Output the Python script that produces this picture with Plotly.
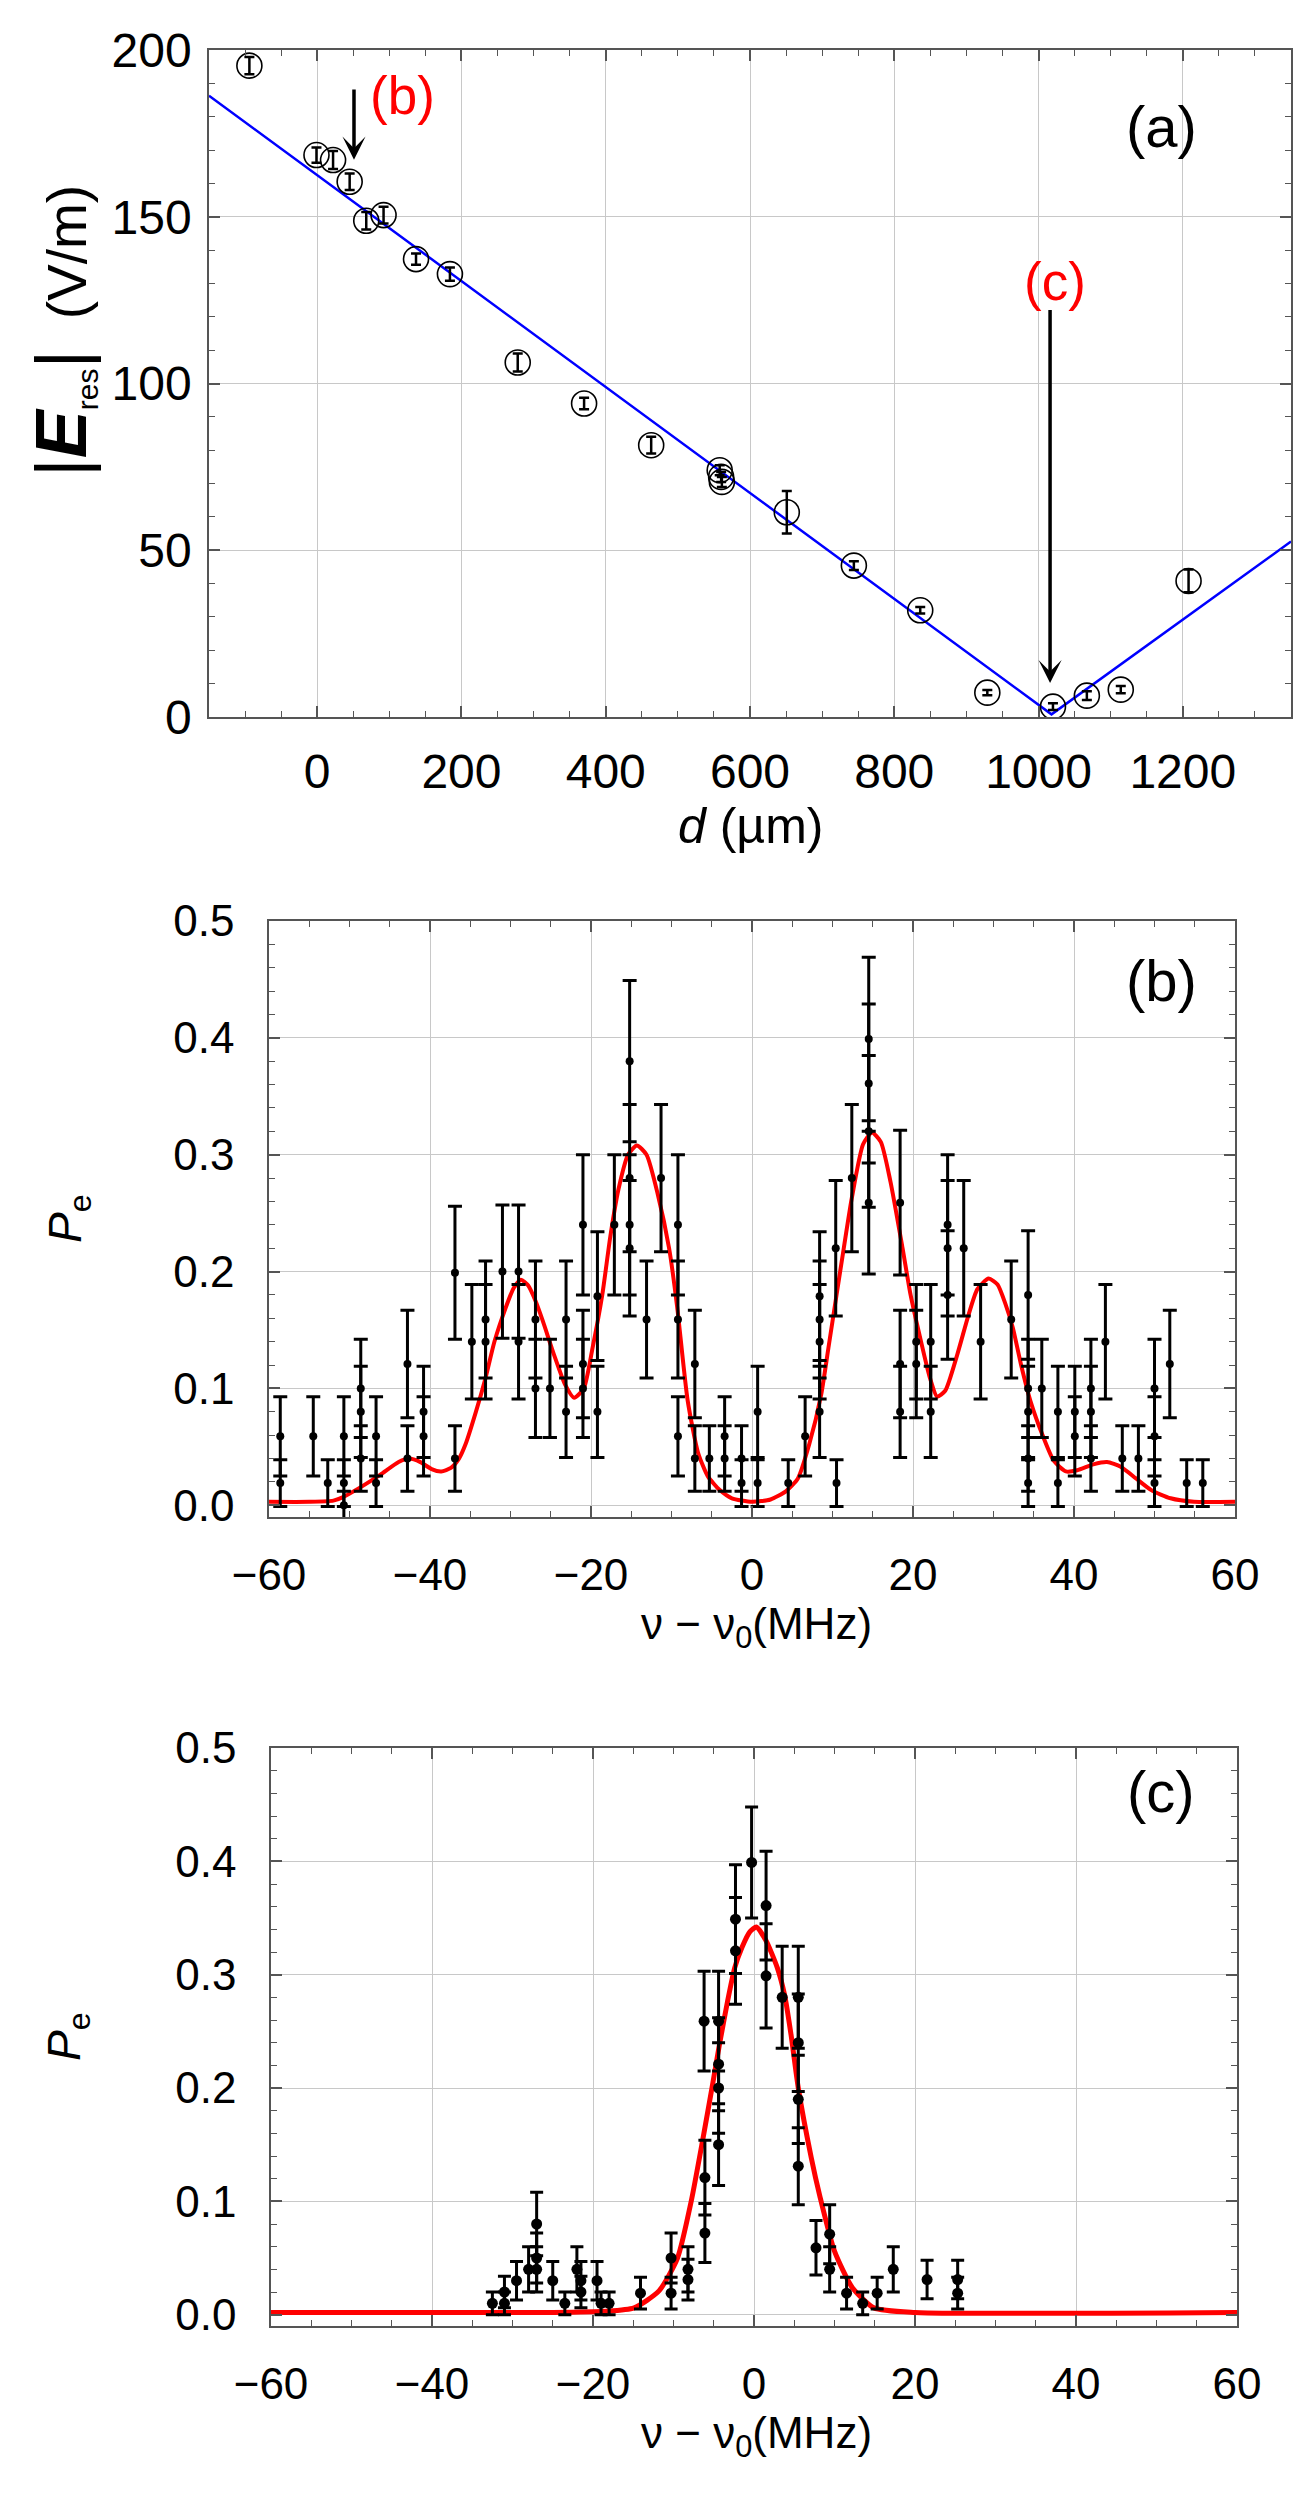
import plotly.graph_objects as go

W, H = 1309, 2512
FONT = "Liberation Sans, Arial, Helvetica, sans-serif"

# ---------------- Panel (a) data ----------------
a_d = [-94, -1, 22, 45, 68, 92, 137, 184, 278, 370, 463, 558, 560, 561, 651, 744, 836, 929, 1020, 1067, 1114, 1208]
a_E = [195.3, 168.5, 167.0, 160.5, 148.8, 150.5, 137.3, 132.8, 106.3, 94.0, 81.5, 74.0, 72.0, 70.5, 61.4, 45.4, 32.0, 7.3, 3.1, 6.4, 8.2, 40.8]
a_err = [2.6, 2.3, 2.7, 2.5, 2.6, 2.5, 1.7, 2.0, 2.7, 1.7, 2.5, 1.5, 1.5, 1.5, 6.4, 1.3, 1.0, 0.8, 1.0, 1.3, 1.1, 3.4]
fit_d = [-150, 1018, 1350]
fit_E = [186.3, 0.8, 52.6]

# ---------------- Panel (b) data ----------------
b_x = [-58.6, -58.6, -54.5, -52.7, -50.7, -50.7, -50.7, -48.6, -48.6, -48.6, -46.7, -46.7,
       -42.8, -42.8, -40.8, -40.8, -36.9, -36.9, -34.8, -33.1, -33.1, -31.0, -29.0, -29.0,
       -26.9, -26.9, -25.1, -23.1, -23.1, -21.0, -21.0, -21.0, -19.2, -19.2, -17.1,
       -15.2, -15.2, -15.2, -15.2, -13.1, -11.3, -9.2, -9.2, -9.2, -7.1, -7.1, -5.3,
       -3.4, -3.4, -1.3, -1.3, 0.7, 0.7, 4.5, 6.6, 8.4, 8.4, 8.4, 8.4, 10.4, 10.5, 12.4,
       14.5, 14.5, 14.5, 14.5, 18.4, 18.4, 18.4, 20.4, 20.4, 22.2, 22.2, 24.3, 24.3, 24.3,
       26.3, 28.4, 32.2, 34.3, 34.3, 34.3, 34.3, 34.3, 36.0, 38.0, 38.0, 40.1, 40.1,
       42.1, 42.1, 42.1, 43.9, 46.0, 48.0, 50.0, 50.0, 50.0, 51.9, 54.0, 56.0]
b_y = [0.059, 0.019, 0.059, 0.019, 0.059, 0.019, 0.000, 0.100, 0.080, 0.040, 0.059, 0.019,
       0.121, 0.040, 0.080, 0.059, 0.199, 0.040, 0.140, 0.159, 0.140, 0.200, 0.200, 0.140,
       0.159, 0.100, 0.100, 0.159, 0.080, 0.240, 0.121, 0.100, 0.179, 0.080, 0.240,
       0.380, 0.280, 0.240, 0.220, 0.159, 0.280, 0.240, 0.159, 0.059, 0.121, 0.040, 0.040,
       0.059, 0.040, 0.040, 0.019, 0.080, 0.019, 0.019, 0.059, 0.179, 0.159, 0.140, 0.080, 0.220, 0.019, 0.280,
       0.399, 0.361, 0.320, 0.259, 0.259, 0.121, 0.080, 0.140, 0.121, 0.140, 0.080, 0.240, 0.220, 0.180,
       0.220, 0.140, 0.159, 0.180, 0.100, 0.080, 0.040, 0.019, 0.100, 0.080, 0.019, 0.080, 0.059,
       0.100, 0.080, 0.040, 0.140, 0.040, 0.040, 0.100, 0.059, 0.019, 0.121, 0.019, 0.019]
b_err = [0.034, 0.020, 0.034, 0.020, 0.034, 0.020, 0.012, 0.042, 0.039, 0.028, 0.034, 0.020,
         0.046, 0.028, 0.039, 0.034, 0.057, 0.028, 0.049, 0.050, 0.049, 0.057, 0.057, 0.049,
         0.050, 0.042, 0.042, 0.050, 0.039, 0.060, 0.046, 0.042, 0.055, 0.039, 0.060,
         0.069, 0.063, 0.060, 0.058, 0.050, 0.063, 0.060, 0.050, 0.034, 0.046, 0.028, 0.028,
         0.034, 0.028, 0.028, 0.020, 0.039, 0.020, 0.020, 0.034, 0.055, 0.050, 0.049, 0.039, 0.058, 0.020, 0.063,
         0.070, 0.068, 0.065, 0.061, 0.062, 0.046, 0.039, 0.049, 0.046, 0.049, 0.039, 0.060, 0.058, 0.055,
         0.058, 0.049, 0.050, 0.055, 0.042, 0.039, 0.028, 0.020, 0.042, 0.039, 0.020, 0.039, 0.034,
         0.042, 0.039, 0.028, 0.049, 0.028, 0.028, 0.042, 0.034, 0.020, 0.046, 0.020, 0.020]
bfit_x = [-60, -55, -52, -50.8, -48.5, -46.2, -43.9, -42.6, -41.2, -39.8, -38.6, -37.4, -36.4, -35.6,
          -34.3, -33.1, -32.0, -30.6, -29.6, -28.7, -27.8, -26.9, -26.0, -24.6, -23.2, -22.1, -20.9,
          -19.8, -18.6, -17.6, -16.6, -15.4, -14.3, -13.1, -11.7, -10.3, -9.3, -8.0, -6.7, -5.5, -4.0,
          -2.5, 0, 2.3, 4.2, 5.7, 7.1, 8.6, 9.5, 10.5, 11.4, 12.4, 13.8, 14.9, 16.0, 17.2, 18.7, 19.7,
          20.9, 22.1, 23.0, 24.0, 25.5, 26.9, 28.0, 29.4, 30.5, 31.5, 32.4, 33.4, 34.6, 36.1, 37.5,
          39.0, 40.4, 42.4, 44.1, 45.8, 47.7, 49.6, 52.0, 54.9, 60]
bfit_y = [0.003, 0.003, 0.004, 0.007, 0.016, 0.026, 0.037, 0.040, 0.037, 0.031, 0.029, 0.032, 0.040, 0.052,
          0.080, 0.109, 0.140, 0.169, 0.186, 0.193, 0.188, 0.175, 0.158, 0.129, 0.103, 0.092, 0.100,
          0.135, 0.180, 0.230, 0.270, 0.300, 0.308, 0.300, 0.266, 0.220, 0.170, 0.090, 0.045, 0.025, 0.013,
          0.006, 0.003, 0.005, 0.012, 0.023, 0.052, 0.095, 0.135, 0.180, 0.220, 0.263, 0.309, 0.319, 0.311,
          0.277, 0.220, 0.180, 0.143, 0.109, 0.093, 0.098, 0.129, 0.163, 0.185, 0.194, 0.189, 0.172, 0.152,
          0.121, 0.089, 0.060, 0.038, 0.029, 0.030, 0.035, 0.037, 0.033, 0.023, 0.013, 0.006, 0.003, 0.003]

# ---------------- Panel (c) data ----------------
c_x = [-32.5, -31.0, -31.0, -29.5, -28.0, -27.0, -27.0, -27.0, -25.0, -23.5, -22.0, -21.5, -21.5,
       -19.5, -19.0, -18.0, -14.1, -10.3, -10.3, -8.2, -8.2, -6.2, -6.1, -6.1, -4.4, -4.4, -4.4, -4.4,
       -2.3, -2.3, -0.3, 1.5, 1.5, 3.5, 5.5, 5.5, 5.5, 5.5, 7.7, 9.4, 9.4, 11.5, 13.5, 15.3, 17.3,
       21.5, 25.3, 25.3]
c_y = [0.010, 0.010, 0.020, 0.030, 0.040, 0.080, 0.050, 0.040, 0.030, 0.010, 0.040, 0.030, 0.020,
       0.030, 0.010, 0.010, 0.019, 0.050, 0.019, 0.040, 0.031, 0.259, 0.121, 0.072, 0.259, 0.221, 0.200, 0.150,
       0.349, 0.321, 0.399, 0.361, 0.299, 0.280, 0.280, 0.240, 0.190, 0.131, 0.059, 0.071, 0.040,
       0.019, 0.010, 0.019, 0.040, 0.031, 0.031, 0.019]
c_err = [0.010, 0.010, 0.014, 0.017, 0.020, 0.028, 0.022, 0.020, 0.017, 0.010, 0.020, 0.017, 0.014,
         0.017, 0.010, 0.010, 0.014, 0.022, 0.014, 0.020, 0.018, 0.044, 0.033, 0.026, 0.044, 0.041, 0.040, 0.036,
         0.048, 0.047, 0.049, 0.048, 0.046, 0.045, 0.045, 0.043, 0.039, 0.034, 0.024, 0.026, 0.020,
         0.014, 0.010, 0.014, 0.020, 0.017, 0.017, 0.014]
cfit_x = [-60, -25, -18.4, -14.9, -11.8, -9.5, -7.8, -6.4, -5.1, -4.3, -3.3, -2.4, -1.5, -0.5, 0.3,
          1.5, 2.9, 3.8, 4.6, 5.5, 7.1, 8.2, 10.0, 12.2, 14.9, 20, 60]
cfit_y = [0.002, 0.002, 0.003, 0.006, 0.021, 0.050, 0.100, 0.153, 0.205, 0.238, 0.276, 0.306, 0.324, 0.338, 0.342,
          0.330, 0.306, 0.282, 0.247, 0.200, 0.139, 0.104, 0.056, 0.024, 0.006, 0.002, 0.002]

a_xticks = [0, 200, 400, 600, 800, 1000, 1200]
a_yticks = [0, 50, 100, 150, 200]
bc_xticks = [-60, -40, -20, 0, 20, 40, 60]
bc_yticks = [0.0, 0.1, 0.2, 0.3, 0.4, 0.5]
bc_yticktext = ["0.0", "0.1", "0.2", "0.3", "0.4", "0.5"]

fig = go.Figure()

# Panel (a)
fig.add_trace(go.Scatter(x=fit_d, y=fit_E, mode="lines", line=dict(color="#0000ff", width=2.5),
                         xaxis="x", yaxis="y", showlegend=False, hoverinfo="skip"))
fig.add_trace(go.Scatter(x=a_d, y=a_E, mode="markers",
                         marker=dict(symbol="circle-open", size=25, color="black", line=dict(width=1.6, color="black")),
                         error_y=dict(type="data", array=a_err, color="black", thickness=2.5, width=5),
                         xaxis="x", yaxis="y", showlegend=False))

# Panel (b)
fig.add_trace(go.Scatter(x=bfit_x, y=bfit_y, mode="lines", line=dict(color="#ff0000", width=4, shape="spline", smoothing=0.6),
                         xaxis="x2", yaxis="y2", showlegend=False, hoverinfo="skip"))
fig.add_trace(go.Scatter(x=b_x, y=b_y, mode="markers",
                         marker=dict(symbol="circle", size=8, color="black"),
                         error_y=dict(type="data", array=b_err, color="black", thickness=3, width=7),
                         xaxis="x2", yaxis="y2", showlegend=False))

# Panel (c)
fig.add_trace(go.Scatter(x=cfit_x, y=cfit_y, mode="lines", line=dict(color="#ff0000", width=5, shape="spline", smoothing=0.6),
                         xaxis="x3", yaxis="y3", showlegend=False, hoverinfo="skip"))
fig.add_trace(go.Scatter(x=c_x, y=c_y, mode="markers",
                         marker=dict(symbol="circle", size=11, color="black"),
                         error_y=dict(type="data", array=c_err, color="black", thickness=3, width=6.5),
                         xaxis="x3", yaxis="y3", showlegend=False))


def px_dom_x(l, r):
    return [l / W, r / W]


def px_dom_y(top, bottom):
    return [1 - bottom / H, 1 - top / H]


def axis_common(size):
    return dict(showgrid=True, gridcolor="#c8c8c8", gridwidth=1.3, zeroline=False, automargin=False,
                showline=True, linecolor="#555555", linewidth=1.5, mirror="ticks",
                ticks="inside", ticklen=11, tickwidth=1.5, tickcolor="#555555",
                tickfont=dict(family=FONT, size=size, color="black"))


xa = axis_common(48)
xa.update(domain=px_dom_x(201, 1283), range=[-150, 1350], tickvals=a_xticks, anchor="y",
          minor=dict(dtick=50, tick0=0, ticks="inside", ticklen=6, tickwidth=1.2, tickcolor="#555555", showgrid=False),
          ticklabelstandoff=12)
ya = axis_common(48)
ya.update(domain=px_dom_y(42, 709), range=[0, 200], tickvals=a_yticks, anchor="x",
          minor=dict(dtick=10, tick0=0, ticks="inside", ticklen=6, tickwidth=1.2, tickcolor="#555555", showgrid=False),
          ticklabelstandoff=6)

xb = axis_common(44)
xb.update(domain=px_dom_x(261, 1227), range=[-60, 60], tickvals=bc_xticks, anchor="y2",
          minor=dict(dtick=5, tick0=0, ticks="inside", ticklen=6, tickwidth=1.2, tickcolor="#555555", showgrid=False),
          ticklabelstandoff=18)
yb = axis_common(44)
yb.update(domain=px_dom_y(913, 1509), range=[-0.01, 0.5], tickvals=bc_yticks, ticktext=bc_yticktext, anchor="x2",
          minor=dict(dtick=0.02, tick0=0, ticks="inside", ticklen=6, tickwidth=1.2, tickcolor="#555555", showgrid=False),
          ticklabelstandoff=24)

xc = axis_common(44)
xc.update(domain=px_dom_x(263, 1229), range=[-60, 60], tickvals=bc_xticks, anchor="y3",
          minor=dict(dtick=5, tick0=0, ticks="inside", ticklen=6, tickwidth=1.2, tickcolor="#555555", showgrid=False),
          ticklabelstandoff=18)
yc = axis_common(44)
yc.update(domain=px_dom_y(1740, 2318), range=[-0.01, 0.5], tickvals=bc_yticks, ticktext=bc_yticktext, anchor="x3",
          minor=dict(dtick=0.02, tick0=0, ticks="inside", ticklen=6, tickwidth=1.2, tickcolor="#555555", showgrid=False),
          ticklabelstandoff=24)

annotations = []


def paper_text(text, xpx, ypx, size, angle=0, color="black"):
    annotations.append(dict(text=text, x=xpx / W, y=1 - ypx / H, xref="paper", yref="paper",
                            xanchor="center", yanchor="middle", showarrow=False, textangle=angle,
                            font=dict(family=FONT, size=size, color=color)))


# axis titles
paper_text("<i>d</i> (µm)", 742, 818, 50)
paper_text("ν − ν<sub>0</sub>(MHz)", 748, 1619, 44)
paper_text("ν − ν<sub>0</sub>(MHz)", 748, 2428, 44)
paper_text("<span style='font-size:72px'>|<b><i>E</i></b></span><sub><span style='font-size:30px'>res</span></sub>"
           "<span style='font-size:72px'>|</span>  (V/m)", 55, 323, 55, angle=-90)
paper_text("<i>P</i><sub>e</sub>", 60, 1211, 46, angle=-90)
paper_text("<i>P</i><sub>e</sub>", 60, 2029, 46, angle=-90)

# panel labels
annotations.append(dict(text="(a)", x=1171, y=177, xref="x", yref="y", showarrow=False,
                        font=dict(family=FONT, size=58, color="black")))
annotations.append(dict(text="(b)", x=50.9, y=0.4495, xref="x2", yref="y2", showarrow=False,
                        font=dict(family=FONT, size=58, color="black")))
annotations.append(dict(text="(c)", x=50.6, y=0.462, xref="x3", yref="y3", showarrow=False,
                        font=dict(family=FONT, size=58, color="black")))
annotations.append(dict(text="(b)", x=118, y=186.5, xref="x", yref="y", showarrow=False,
                        font=dict(family=FONT, size=53, color="#ff0000")))
annotations.append(dict(text="(c)", x=1023, y=130.7, xref="x", yref="y", showarrow=False,
                        font=dict(family=FONT, size=53, color="#ff0000")))

# arrows
annotations.append(dict(text="", x=51, y=167.1, ax=51, ay=188.6, xref="x", yref="y", axref="x", ayref="y",
                        showarrow=True, arrowhead=3, arrowsize=1.1, arrowwidth=3.5, arrowcolor="black", standoff=0))
annotations.append(dict(text="", x=1016, y=10.2, ax=1016, ay=122.5, xref="x", yref="y", axref="x", ayref="y",
                        showarrow=True, arrowhead=3, arrowsize=1.1, arrowwidth=3.5, arrowcolor="black", standoff=0))

fig.update_layout(width=W, height=H, margin=dict(l=0, r=0, t=0, b=0, pad=0),
                  paper_bgcolor="white", plot_bgcolor="white",
                  xaxis=xa, yaxis=ya, xaxis2=xb, yaxis2=yb, xaxis3=xc, yaxis3=yc,
                  annotations=annotations, font=dict(family=FONT, color="black"))

fig.write_html("out.html")
